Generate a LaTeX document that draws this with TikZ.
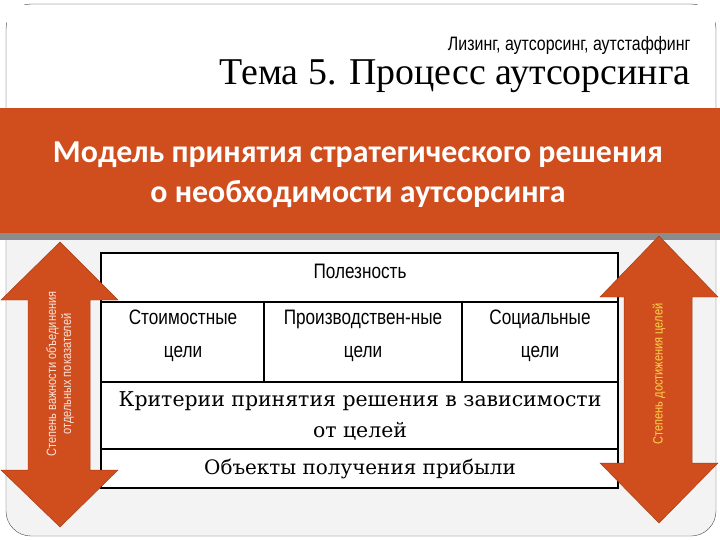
\documentclass[tikz,border=0pt]{standalone}
\usepackage{fontspec}
\setmainfont{Liberation Serif}
\newfontfamily\hdr{Carlito}
\newfontfamily\narrow[FakeStretch=0.82]{Liberation Sans}
\newfontfamily\tser{DejaVu Serif}
\definecolor{org}{HTML}{D04D1E}
\definecolor{bgc}{HTML}{F3F3F3}
\tikzset{
 cell/.style={draw=black,line width=2pt,fill=white},
 dbl/.style={fill=org,draw=org!80!black,line width=0.5pt},
 arrtxt/.style={rotate=90,font=\narrow\fontsize{13.5}{15}\selectfont,align=center},
 ctxt/.style={align=center,font=\narrow\fontsize{21}{33}\selectfont}
}
\begin{document}
\begin{tikzpicture}[x=1bp,y=-1bp]
\useasboundingbox (0,0) rectangle (720,540);
\fill[white] (0,0) rectangle (720,540);
\draw[fill=bgc,draw=black!70,rounded corners=25] (6,4) rectangle (716,536);
\fill[white] (7,5) rectangle (715,108);
\fill[black!45] (0,108) rectangle (720,240);
\fill[org] (0,108) rectangle (720,233);
\node[anchor=east,font=\narrow\fontsize{19.5}{20}\selectfont] (sub) at (694,45) {Лизинг, аутсорсинг, аутстаффинг};
\node[anchor=east,font=\fontsize{38}{40}\selectfont] (title) at (694,76) {Тема 5. Процесс аутсорсинга};
\node[align=center,text=white,font=\hdr\bfseries\fontsize{32}{40}\selectfont] (head) at (358,175) {Модель принятия стратегического решения\\о необходимости аутсорсинга};
% table
\draw[cell] (101,253) rectangle (618,302);
\draw[cell] (101,302) rectangle (264,382);
\draw[cell] (264,302) rectangle (462,382);
\draw[cell] (462,302) rectangle (618,382);
\draw[cell] (101,382) rectangle (618,449);
\draw[cell] (101,449) rectangle (618,488);
\node[ctxt] (p) at (360,271) {Полезность};
\node[ctxt] (c1) at (183,336) {Стоимостные\\цели};
\node[ctxt] (c2) at (363,336) {Производствен-ные\\цели};
\node[ctxt] (c3) at (540,336) {Социальные\\цели};
\node[align=center,font=\tser\fontsize{20.5}{31}\selectfont] (k) at (360,416) {Критерии принятия решения в зависимости\\от целей};
\node[font=\tser\fontsize{20}{22}\selectfont] (o) at (360,469) {Объекты получения прибыли};
% arrows
\draw[dbl] (60,242)--(118,300)--(90,300)--(90,470)--(118,470)--(60,527)--(1,470)--(28,470)--(28,300)--(1,300)--cycle;
\draw[dbl] (659,236)--(718,297)--(692,297)--(692,463)--(718,463)--(659,523)--(600,463)--(624,463)--(624,297)--(600,297)--cycle;
\node[arrtxt,text=white!85!org] (la) at (60,374) {Степень важности объединения\\отдельных показателей};
\node[arrtxt,text=yellow!60!orange!70!white] (ra) at (659,374) {Степень достижения целей};
\end{tikzpicture}
\end{document}
